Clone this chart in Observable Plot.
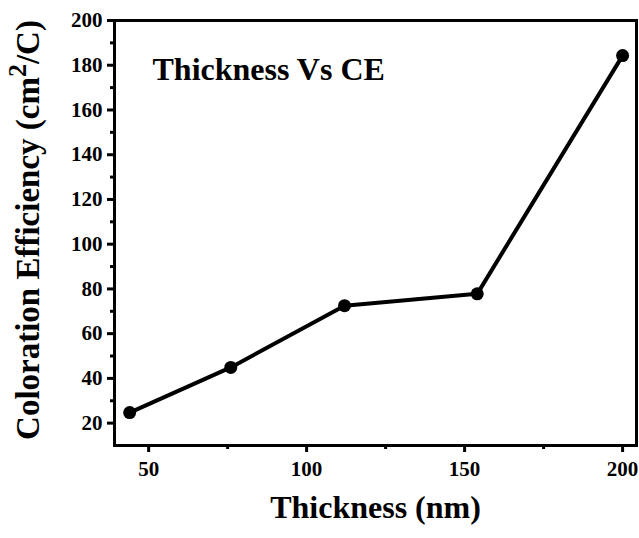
<!DOCTYPE html>
<html><head><meta charset="utf-8">
<script src="https://cdn.jsdelivr.net/npm/d3@7"></script>
<script src="https://cdn.jsdelivr.net/npm/@observablehq/plot@0.6"></script>
<style>body{margin:0;background:#fff;}</style>
</head><body><div id="chart"></div>
<script>
const thickness = [44, 76, 112, 154, 200];
const efficiency = [24.7, 44.9, 72.5, 77.8, 184.3];
const xTicks = [50, 100, 150, 200];
const xMinor = [75, 125, 175];
const yTicks = [20, 40, 60, 80, 100, 120, 140, 160, 180, 200];
const yMinor = [30, 50, 70, 90, 110, 130, 150, 170, 190];
const title = "Thickness Vs CE";
const xLabel = "Thickness (nm)";
const yLabel = "Coloration Efficiency (cm²/C)";

const data = thickness.map((t, i) => ({t, ce: efficiency[i]}));

const chart = Plot.plot({
  width: 639, height: 538,
  marginLeft: 114, marginRight: 3, marginTop: 20, marginBottom: 93,
  style: {fontFamily: "'Liberation Serif', 'Times New Roman', serif", fontWeight: "bold", fontSize: "21px", color: "#000", background: "#fff"},
  x: {domain: [39.2, 204.4]},
  y: {domain: [10, 200]},
  marks: [
    Plot.axisX(xMinor, {tickSize: 4, strokeWidth: 3, text: null, label: null}),
    Plot.axisX(xTicks, {tickSize: 7, strokeWidth: 3, tickPadding: 9, label: null}),
    Plot.axisY(yMinor, {tickSize: 4, strokeWidth: 3, text: null, label: null}),
    Plot.axisY(yTicks, {tickSize: 7, strokeWidth: 3, tickPadding: 5, label: null}),
    Plot.frame({strokeWidth: 3}),
    Plot.line(data, {x: "t", y: "ce", strokeWidth: 4}),
    Plot.dot(data, {x: "t", y: "ce", r: 6.5, fill: "currentColor", stroke: null}),
    Plot.text([title], {text: d => d, frameAnchor: "top-left", dx: 38, dy: 37, textAnchor: "start", fontSize: 32}),
    Plot.text([xLabel], {text: d => d, frameAnchor: "bottom", dy: 72, textAnchor: "middle", fontSize: 32}),
    Plot.text([yLabel], {text: d => d, frameAnchor: "left", dx: -86, dy: -3, rotate: -90, textAnchor: "middle", fontSize: 33})
  ]
});

d3.select(chart).selectAll("text").filter(function() { return this.textContent === yLabel; }).each(function() {
  const t = d3.select(this);
  t.text(null);
  t.append("tspan").text("Coloration Efficiency (cm");
  t.append("tspan").attr("dy", -13).attr("font-size", 26).text("2");
  t.append("tspan").attr("dy", 13).text("/C)");
});

document.getElementById("chart").append(chart);
</script>
</body></html>
